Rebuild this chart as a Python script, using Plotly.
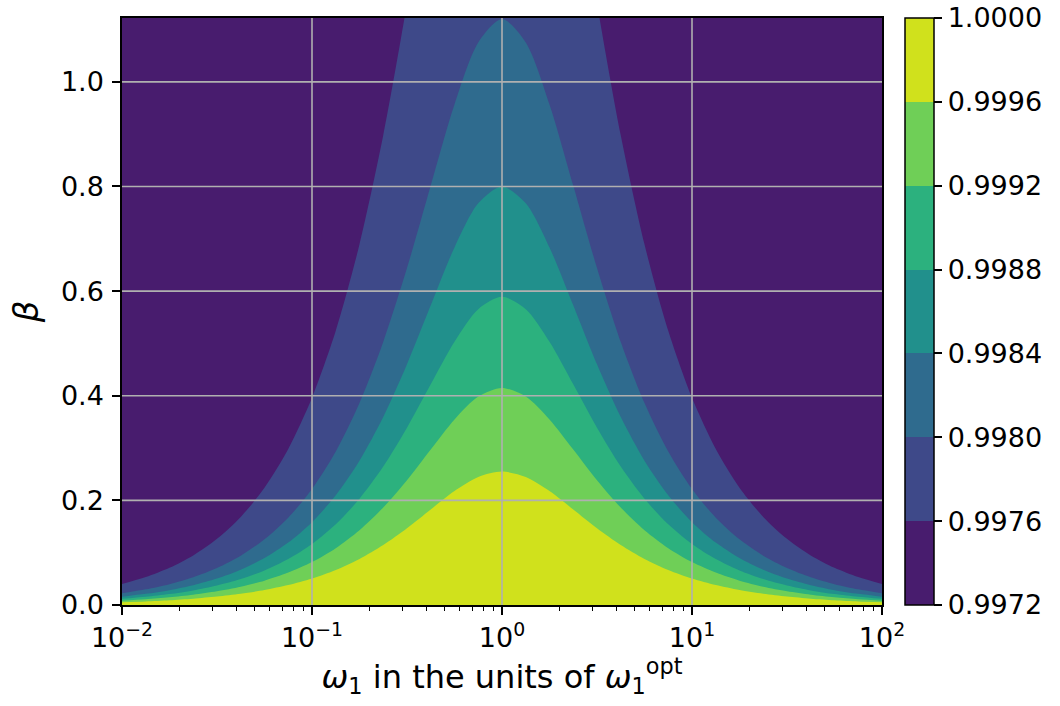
import plotly.graph_objects as go

# omega sample positions (units of omega_opt), 1/8-decade steps
omega = [0.01, 0.01334, 0.01778, 0.02371, 0.03162, 0.04217, 0.05623, 0.07499,
         0.1, 0.1334, 0.1778, 0.2371, 0.3162, 0.4217, 0.5623, 0.7499,
         1.0,
         1.334, 1.778, 2.371, 3.162, 4.217, 5.623, 7.499,
         10.0, 13.34, 17.78, 23.71, 31.62, 42.17, 56.23, 74.99, 100.0]

# contour boundaries: beta at which the fidelity equals each level
levels = [0.9976, 0.9980, 0.9984, 0.9988, 0.9992, 0.9996]
beta_09976 = [0.040, 0.0533, 0.0711, 0.0948, 0.1264, 0.1684, 0.2242, 0.2983,
              0.3960, 0.5241, 0.6895, 0.8980, 1.1499, 1.4321, 1.7087, 1.9200,
              2.000,
              1.9200, 1.7087, 1.4321, 1.1499, 0.8980, 0.6895, 0.5241,
              0.3960, 0.2983, 0.2242, 0.1684, 0.1264, 0.0948, 0.0711, 0.0533, 0.040]
beta_09980 = [0.0224, 0.0299, 0.0398, 0.0531, 0.0708, 0.0943, 0.1256, 0.1670,
              0.2218, 0.2935, 0.3861, 0.5029, 0.6440, 0.8020, 0.9569, 1.0752,
              1.120,
              1.0752, 0.9569, 0.8020, 0.6440, 0.5029, 0.3861, 0.2935,
              0.2218, 0.1670, 0.1256, 0.0943, 0.0708, 0.0531, 0.0398, 0.0299, 0.0224]
beta_09984 = [0.0160, 0.0213, 0.0284, 0.0379, 0.0505, 0.0674, 0.0897, 0.1193,
              0.1584, 0.2096, 0.2758, 0.3592, 0.4600, 0.5728, 0.6835, 0.7680,
              0.800,
              0.7680, 0.6835, 0.5728, 0.4600, 0.3592, 0.2758, 0.2096,
              0.1584, 0.1193, 0.0897, 0.0674, 0.0505, 0.0379, 0.0284, 0.0213, 0.0160]
beta_09988 = [0.0118, 0.0157, 0.0209, 0.0279, 0.0372, 0.0496, 0.0660, 0.0878,
              0.1166, 0.1543, 0.2031, 0.2645, 0.3387, 0.4218, 0.5032, 0.5655,
              0.589,
              0.5655, 0.5032, 0.4218, 0.3387, 0.2645, 0.2031, 0.1543,
              0.1166, 0.0878, 0.0660, 0.0496, 0.0372, 0.0279, 0.0209, 0.0157, 0.0118]
beta_09992 = [0.0083, 0.0111, 0.0148, 0.0197, 0.0262, 0.0349, 0.0465, 0.0619,
              0.0822, 0.1087, 0.1431, 0.1863, 0.2386, 0.2972, 0.3546, 0.3984,
              0.415,
              0.3984, 0.3546, 0.2972, 0.2386, 0.1863, 0.1431, 0.1087,
              0.0822, 0.0619, 0.0465, 0.0349, 0.0262, 0.0197, 0.0148, 0.0111, 0.0083]
beta_09996 = [0.0051, 0.0068, 0.0091, 0.0121, 0.0161, 0.0215, 0.0286, 0.0380,
              0.0505, 0.0668, 0.0879, 0.1145, 0.1466, 0.1826, 0.2179, 0.2448,
              0.255,
              0.2448, 0.2179, 0.1826, 0.1466, 0.1145, 0.0879, 0.0668,
              0.0505, 0.0380, 0.0286, 0.0215, 0.0161, 0.0121, 0.0091, 0.0068, 0.0051]
boundaries = [beta_09976, beta_09980, beta_09984, beta_09988, beta_09992, beta_09996]

cbar_ticks = [0.9972, 0.9976, 0.9980, 0.9984, 0.9988, 0.9992, 0.9996, 1.0000]
band_colors = ["#481c6e", "#3e4989", "#2f6b8e", "#21908c", "#2cb17e", "#6fcf57", "#d0e11c"]
x_ticks = [0.01, 0.1, 1, 10, 100]
x_ticktext = ["10<sup>\u22122</sup>", "10<sup>\u22121</sup>", "10<sup>0</sup>",
              "10<sup>1</sup>", "10<sup>2</sup>"]
y_ticks = [0.0, 0.2, 0.4, 0.6, 0.8, 1.0]

YMAX = 1.122
FONT = "DejaVu Sans"
GRID = "#b0b0b0"
L, R, T, B = 122, 178, 18, 101
PW = 1060 - L - R

fig = go.Figure()

# filled regions: each boundary filled down to beta=0 with the colour of the band above its level
for i, b in enumerate(boundaries):
    fig.add_trace(go.Scatter(
        x=omega, y=b, mode="lines",
        line=dict(width=0, shape="spline", smoothing=0.8, color=band_colors[i + 1]),
        fill="tozeroy", fillcolor=band_colors[i + 1], hoverinfo="skip", showlegend=False))

# grid lines drawn above the filled contours
gx, gy = [], []
for xv in x_ticks[1:-1]:
    gx += [xv, xv, None]
    gy += [0, YMAX, None]
for yv in y_ticks[1:]:
    gx += [x_ticks[0], x_ticks[-1], None]
    gy += [yv, yv, None]
fig.add_trace(go.Scatter(x=gx, y=gy, mode="lines", line=dict(color=GRID, width=1.6),
                         hoverinfo="skip", showlegend=False))

# colourbar carrier
n = len(band_colors)
cscale = []
for i, c in enumerate(band_colors):
    cscale.append([i / n, c])
    cscale.append([(i + 1) / n, c])
fig.add_trace(go.Scatter(
    x=[1.0], y=[0.5], mode="markers",
    marker=dict(size=1, opacity=0, color=[1.0], colorscale=cscale,
                cmin=cbar_ticks[0], cmax=cbar_ticks[-1], showscale=True,
                colorbar=dict(
                    x=(905 - L) / PW, xanchor="left", xpad=0, ypad=0,
                    y=0.5, yanchor="middle", len=1, lenmode="fraction",
                    thickness=29, thicknessmode="pixels",
                    outlinewidth=1.5, outlinecolor="black",
                    tickmode="array", tickvals=cbar_ticks,
                    ticktext=[f"{t:.4f}" for t in cbar_ticks],
                    ticklabeloverflow="allow",
                    ticks="outside", ticklen=8, tickwidth=1.5, tickcolor="black",
                    tickfont=dict(family=FONT, size=27, color="black"))),
    hoverinfo="skip", showlegend=False))

fig.update_layout(
    width=1060, height=706,
    margin=dict(l=L, r=R, t=T, b=B),
    paper_bgcolor="white", plot_bgcolor=band_colors[0],
    font=dict(family=FONT, size=27, color="black"),
    showlegend=False,
)
minor_vals = [m * 10 ** k for k in range(-2, 2) for m in range(2, 10)]
fig.update_xaxes(
    type="log", range=[-2, 2], showgrid=False, zeroline=False,
    tickmode="array", tickvals=x_ticks, ticktext=x_ticktext,
    ticks="outside", ticklen=8, tickwidth=1.5, tickcolor="black",
    minor=dict(tickmode="array", tickvals=minor_vals, ticks="outside",
               ticklen=4.5, tickwidth=1, tickcolor="black", showgrid=False),
    showline=True, mirror=True, linecolor="black", linewidth=1.5,
    tickfont=dict(family=FONT, size=27),
    title=dict(text="<i>\u03c9</i><sub>1</sub> in the units of <i>\u03c9</i><sub>1</sub><sup>opt</sup>",
               font=dict(family=FONT, size=32), standoff=9),
)
fig.update_yaxes(
    range=[0, YMAX], showgrid=False, zeroline=False,
    tickmode="array", tickvals=y_ticks, tickformat=".1f",
    ticks="outside", ticklen=8, tickwidth=1.5, tickcolor="black",
    ticklabelstandoff=3,
    showline=True, mirror=True, linecolor="black", linewidth=1.5,
    tickfont=dict(family=FONT, size=27),
    title=dict(text="<i>\u03b2</i>", font=dict(family=FONT, size=34), standoff=12),
)

fig.write_html("out.html",
               config={"displayModeBar": False},
               post_script="document.body.style.margin='0';document.body.style.overflow='hidden';")
